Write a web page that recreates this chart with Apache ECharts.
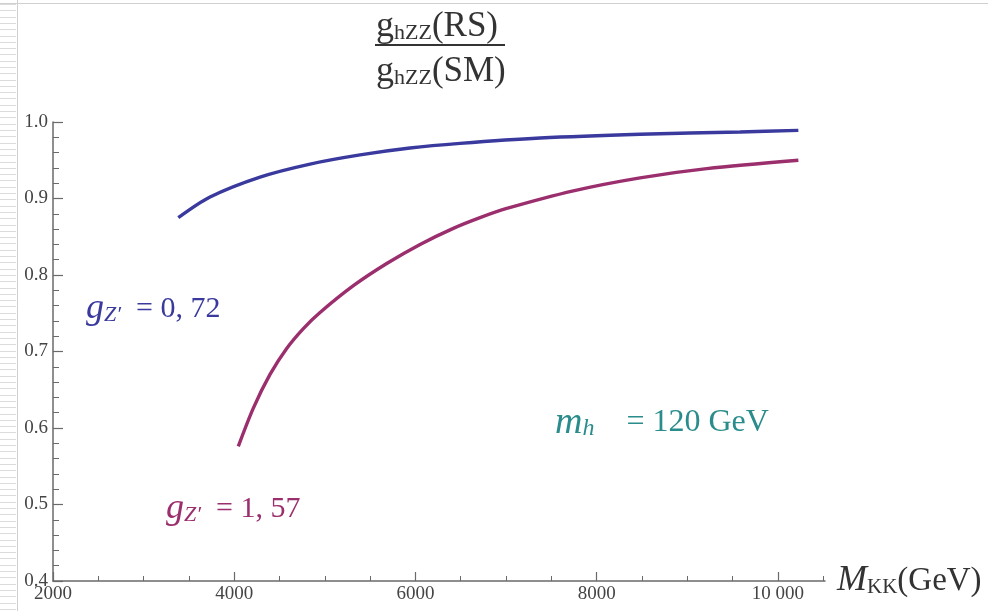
<!DOCTYPE html>
<html><head><meta charset="utf-8">
<script src="https://cdn.jsdelivr.net/npm/echarts@6/dist/echarts.min.js"></script>
<style>html,body{margin:0;padding:0;background:#fff}#c{width:988px;height:611px}</style>
</head><body><div id="c"></div>
<script>
// Data
var blueX = [3383, 3733, 4285, 4837, 5389, 5940, 6492, 7375, 8479, 9583, 10226];
var blueY = [0.875, 0.902, 0.928, 0.945, 0.957, 0.966, 0.972, 0.979, 0.984, 0.987, 0.989];
var magX = [4045, 4211, 4395, 4579, 4763, 4947, 5315, 5683, 6051, 6418, 6713, 7008, 7743, 8479, 9215, 10226];
var magY = [0.576, 0.626, 0.670, 0.704, 0.730, 0.751, 0.786, 0.815, 0.840, 0.861, 0.875, 0.887, 0.910, 0.927, 0.939, 0.950];
var xTicks = [2000, 4000, 6000, 8000, 10000];
var yTicks = [0.4, 0.5, 0.6, 0.7, 0.8, 0.9, 1.0];

function zip(a, b) { return a.map(function (v, i) { return [v, b[i]]; }); }

var serif = 'Liberation Serif';
var axisCol = '#6a6a6a';
var blue = '#3a3a9e';
var mag = '#9b2f6e';
var teal = '#2b8c8c';

var graphics = [];
for (var yy = 4; yy < 611; yy += 6.3) {
  graphics.push({type:'line', shape:{x1:0, y1:Math.round(yy)+0.5, x2:16, y2:Math.round(yy)+0.5}, style:{stroke:'#dcdcdc', lineWidth:1}, silent:true});
}
graphics.push({type:'line', shape:{x1:17.5, y1:0, x2:17.5, y2:611}, style:{stroke:'#cfcfcf', lineWidth:1}, silent:true});
graphics.push({type:'line', shape:{x1:0, y1:3.5, x2:988, y2:3.5}, style:{stroke:'#d0d0d0', lineWidth:1}, silent:true});

var fracRich = {
  g: {fontFamily: serif, fontSize: 36, fill: '#333'},
  s: {fontFamily: serif, fontSize: 22, fill: '#333', padding:[13,0,0,0]},
  p: {fontFamily: serif, fontSize: 35, fill: '#333'}
};
graphics.push({type:'text', left: 376, top: 9, style:{text:'{g|g}{s|hZZ}{p|(RS)}', rich: fracRich, fontFamily: serif}});
graphics.push({type:'line', shape:{x1:375, y1:45, x2:505, y2:45}, style:{stroke:'#333', lineWidth:2.2}});
graphics.push({type:'text', left: 376, top: 54, style:{text:'{g|g}{s|hZZ}{p|(SM)}', rich: fracRich, fontFamily: serif}});

function gz(col, val) {
  return {
    text: '{g|g}{s|Z′}{p|  = ' + val + '}',
    rich: {
      g: {fontFamily: serif, fontSize: 36, fontStyle: 'italic', fill: col},
      s: {fontFamily: serif, fontSize: 22, fontStyle: 'italic', fill: col, padding:[12,0,0,0]},
      p: {fontFamily: serif, fontSize: 30, fill: col}
    }
  };
}
graphics.push({type:'text', left: 86, top: 291, style: gz(blue, '0, 72')});
graphics.push({type:'text', left: 166, top: 491, style: gz(mag, '1, 57')});
graphics.push({type:'text', left: 555, top: 404, style: {
  text: '{m|m}{s|h}{p|    = 120 GeV}',
  rich: {
    m: {fontFamily: serif, fontSize: 38, fontStyle: 'italic', fill: teal},
    s: {fontFamily: serif, fontSize: 24, fontStyle: 'italic', fill: teal, padding:[12,0,0,0]},
    p: {fontFamily: serif, fontSize: 32, fill: teal}
  }
}});

var option = {
  animation: false,
  backgroundColor: '#fff',
  grid: {left: 53, right: 163, top: 122, bottom: 30, containLabel: false},
  xAxis: {
    type: 'value', min: 2000, max: 10520, interval: 2000,
    axisLine: {show: true, lineStyle: {color: axisCol, width: 1.5}},
    axisTick: {show: true, inside: true, length: 9, lineStyle: {color: axisCol, width: 1.2},
      customValues: xTicks},
    minorTick: {show: true, splitNumber: 4, length: 5, lineStyle: {color: axisCol, width: 1}},
    splitLine: {show: false},
    axisLabel: {fontFamily: serif, fontSize: 19, color: '#444', margin: 4,
      customValues: xTicks,
      formatter: function (v) { return v >= 10000 ? String(v).replace(/(\d\d)(\d\d\d)$/, '$1 $2') : String(v); }},
    name: '{m|M}{s|KK}{p|(GeV)}',
    nameLocation: 'end', nameGap: 12,
    nameTextStyle: {
      rich: {
        m: {fontFamily: serif, fontSize: 36, fontStyle: 'italic', color: '#333'},
        s: {fontFamily: serif, fontSize: 21, color: '#333', padding:[12,0,0,0]},
        p: {fontFamily: serif, fontSize: 33, color: '#333'}
      }
    }
  },
  yAxis: {
    type: 'value', min: 0.4, max: 1.0, interval: 0.1,
    axisLine: {show: true, lineStyle: {color: axisCol, width: 1.5}},
    axisTick: {show: true, inside: true, length: 10, lineStyle: {color: axisCol, width: 1.2}},
    minorTick: {show: true, splitNumber: 5, length: 6, lineStyle: {color: axisCol, width: 1}},
    splitLine: {show: false},
    axisLabel: {fontFamily: serif, fontSize: 19, color: '#444', margin: 5,
      formatter: function (v) { return v.toFixed(1); }}
  },
  series: [
    {type: 'line', data: zip(blueX, blueY), showSymbol: false, smooth: 0.3,
      lineStyle: {color: blue, width: 3.4}, itemStyle: {color: blue}},
    {type: 'line', data: zip(magX, magY), showSymbol: false, smooth: 0.3,
      lineStyle: {color: mag, width: 3.4}, itemStyle: {color: mag}}
  ],
  graphic: graphics
};
var chart = echarts.init(document.getElementById('c'), null, {renderer: 'canvas'});
chart.setOption(option);
</script></body></html>
